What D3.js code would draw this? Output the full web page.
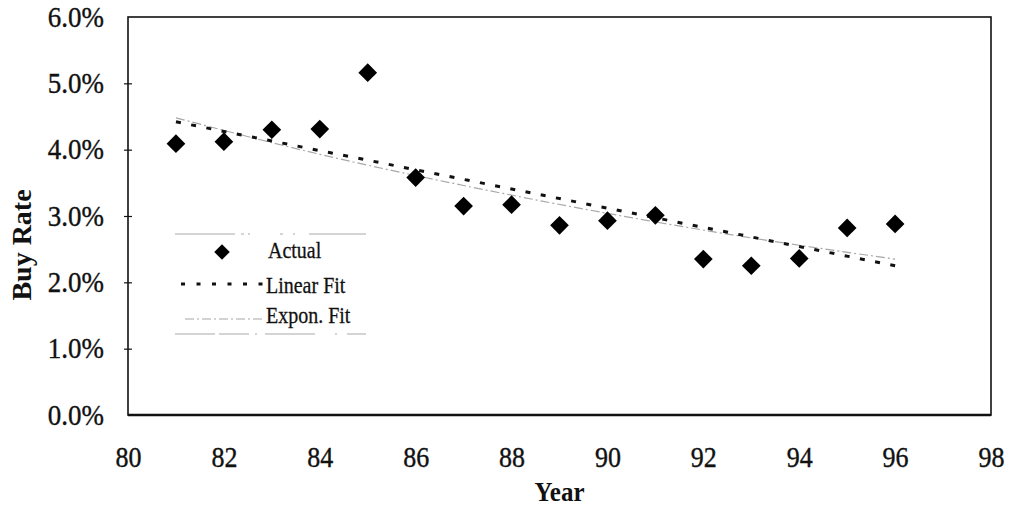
<!DOCTYPE html>
<html>
<head>
<meta charset="utf-8">
<script src="https://cdn.jsdelivr.net/npm/d3@7"></script>
<style>
  html, body { margin: 0; padding: 0; background: #fff; }
  svg { display: block; font-family: "Liberation Serif", "Times New Roman", serif; }
</style>
</head>
<body>
<svg id="chart" width="1016" height="510"></svg>
<script>
// Annual buy rate (%), 1981-1996
const years = [81, 82, 83, 84, 85, 86, 87, 88, 89, 90, 91, 92, 93, 94, 95, 96];
const buyRate = [4.09, 4.12, 4.30, 4.31, 5.16, 3.58, 3.15, 3.17, 2.86, 2.93, 3.01, 2.35, 2.25, 2.36, 2.82, 2.88];

// Trend lines
const linearYears = [81, 96];
const linearFit = [4.42, 2.25];
const expYears = [81, 84, 87, 90, 93, 96];
const expFit = [4.48, 3.93, 3.46, 3.04, 2.67, 2.35];

// Axis ticks
const xTicks = [80, 82, 84, 86, 88, 90, 92, 94, 96, 98];
const yTicks = [0, 1, 2, 3, 4, 5, 6];

// Legend entries
const legendLabels = ["Actual", "Linear Fit", "Expon. Fit"];

const svg = d3.select("#chart");
const plot = { left: 128, right: 991, top: 17, bottom: 415 };
const tall = 1.12; // text is drawn slightly taller than wide

const x = d3.scaleLinear().domain([80, 98]).range([plot.left, plot.right]);
const y = d3.scaleLinear().domain([0, 6]).range([plot.bottom, plot.top]);

// Plot frame
svg.append("rect")
  .attr("x", plot.left).attr("y", plot.top)
  .attr("width", plot.right - plot.left).attr("height", plot.bottom - plot.top)
  .attr("fill", "none").attr("stroke", "#111").attr("stroke-width", 1.6);
svg.append("line")
  .attr("x1", plot.left).attr("x2", plot.right)
  .attr("y1", plot.bottom).attr("y2", plot.bottom)
  .attr("stroke", "#111").attr("stroke-width", 2.4);

// Y axis: small cross ticks and percentage labels
const yAxis = d3.axisLeft(y)
  .tickValues(yTicks)
  .tickSize(0)
  .tickPadding(24)
  .tickFormat(d => d3.format(".1f")(d) + "%");
const gy = svg.append("g").attr("transform", `translate(${plot.left},0)`).call(yAxis);
gy.select(".domain").remove();
gy.selectAll("text")
  .attr("font-family", "Liberation Serif, serif")
  .attr("font-size", 27)
  .attr("fill", "#111")
  .attr("stroke", "#111").attr("stroke-width", 0.35)
  .attr("dy", "0.3em")
  .attr("transform", `scale(1,${tall})`);
gy.selectAll(".tick").filter(d => d > 0 && d < 6).append("line")
  .attr("x1", -4).attr("x2", 4)
  .attr("stroke", "#111").attr("stroke-width", 1.2);

// X axis labels
const xPad = 46;
const xAxis = d3.axisBottom(x)
  .tickValues(xTicks)
  .tickSize(0)
  .tickPadding(xPad)
  .tickFormat(d3.format("d"));
const gx = svg.append("g").attr("transform", `translate(0,${plot.bottom})`).call(xAxis);
gx.select(".domain").remove();
gx.selectAll("text")
  .attr("font-family", "Liberation Serif, serif")
  .attr("font-size", 26)
  .attr("fill", "#111")
  .attr("stroke", "#111").attr("stroke-width", 0.35)
  .attr("y", xPad / tall)
  .attr("dy", "0.2em")
  .attr("transform", `scale(1,${tall})`);

// Axis titles
svg.append("text")
  .attr("transform", `translate(${x(89)},501) scale(1,${tall})`)
  .attr("text-anchor", "middle")
  .attr("font-size", 25).attr("font-weight", "bold").attr("fill", "#111")
  .text("Year");
svg.append("text")
  .attr("transform", `translate(31,${(plot.top + plot.bottom) / 2 + 29}) rotate(-90)`)
  .attr("text-anchor", "middle")
  .attr("font-size", 28).attr("font-weight", "bold").attr("fill", "#111")
  .text("Buy Rate");

// Exponential fit (light grey dash-dot)
const expLine = d3.line()
  .x((d, i) => x(expYears[i]))
  .y(d => y(d))
  .curve(d3.curveMonotoneX);
svg.append("path")
  .datum(expFit)
  .attr("d", expLine)
  .attr("fill", "none")
  .attr("stroke", "#a8a8a8")
  .attr("stroke-width", 1.2)
  .attr("stroke-dasharray", "9,3,2,3");

// Linear fit (black dots)
const linLine = d3.line()
  .x((d, i) => x(linearYears[i]))
  .y(d => y(d));
svg.append("path")
  .datum(linearFit)
  .attr("d", linLine)
  .attr("fill", "none")
  .attr("stroke", "#111")
  .attr("stroke-width", 3)
  .attr("stroke-dasharray", "5,10.5");

// Actual values as diamonds
const diamond = d3.symbol().type(d3.symbolSquare).size(175);
svg.append("g").selectAll("path")
  .data(buyRate)
  .join("path")
  .attr("d", diamond)
  .attr("transform", (d, i) => `translate(${x(years[i])},${y(d)}) rotate(45)`)
  .attr("fill", "#000");

// Legend
const lg = svg.append("g");
lg.append("line")
  .attr("x1", 175).attr("x2", 366).attr("y1", 234).attr("y2", 234)
  .attr("stroke", "#aaa").attr("stroke-width", 1.2)
  .attr("stroke-dasharray", "60,6,3,4,2,30,3,10,2,14");
lg.append("line")
  .attr("x1", 175).attr("x2", 366).attr("y1", 334).attr("y2", 334)
  .attr("stroke", "#aaa").attr("stroke-width", 1.2)
  .attr("stroke-dasharray", "40,4,30,6,2,8,50,20,2,10");

lg.append("path")
  .attr("d", d3.symbol().type(d3.symbolSquare).size(120))
  .attr("transform", "translate(222,252) rotate(45)")
  .attr("fill", "#000");
lg.append("line")
  .attr("x1", 181).attr("x2", 264).attr("y1", 284).attr("y2", 284)
  .attr("stroke", "#111").attr("stroke-width", 3)
  .attr("stroke-dasharray", "4,11.5");
lg.append("line")
  .attr("x1", 185).attr("x2", 263).attr("y1", 319).attr("y2", 319)
  .attr("stroke", "#a8a8a8").attr("stroke-width", 1.2)
  .attr("stroke-dasharray", "9,3,2,3");

const legendY = [258, 293, 323];
const legendX = [268, 266, 266];
lg.selectAll("text")
  .data(legendLabels)
  .join("text")
  .attr("transform", (d, i) => `translate(${legendX[i]},${legendY[i]}) scale(1,${tall})`)
  .attr("font-size", 20)
  .attr("fill", "#111")
  .attr("stroke", "#111").attr("stroke-width", 0.25)
  .text(d => d);
</script>
</body>
</html>
